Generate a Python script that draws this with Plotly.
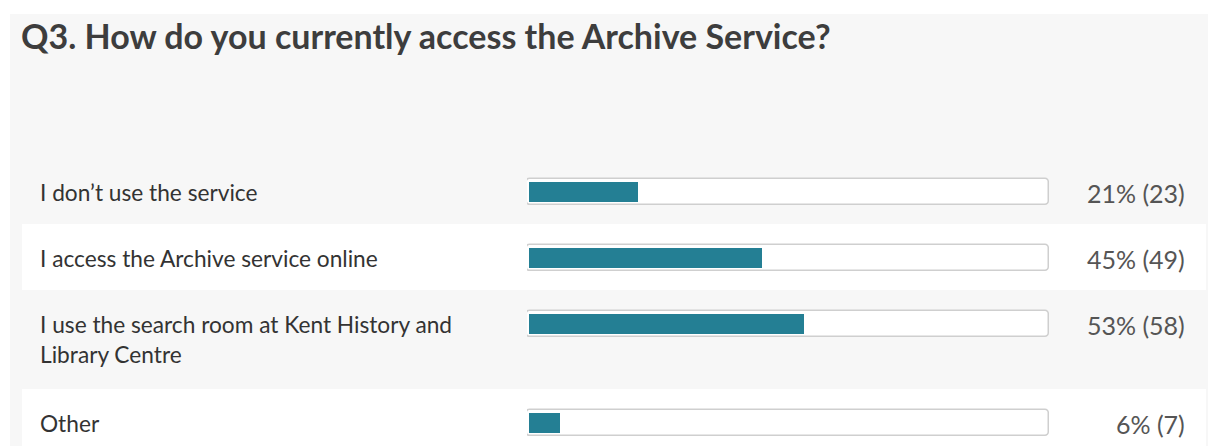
import plotly.graph_objects as go

# ---- data ----
title = "Q3. How do you currently access the Archive Service?"
labels = [
    "I don\u2019t use the service",
    "I access the Archive service online",
    "I use the search room at Kent History and<br>Library Centre",
    "Other",
]
percents = [21, 45, 53, 6]
counts = [23, 49, 58, 7]

# ---- layout constants ----
W, H = 1208, 446
FONT = "Lato"
BAR_COLOR = "#247f94"
LABEL_COLOR = "#333333"
PCT_COLOR = "#555555"
PANEL = "#f7f7f7"

first_row_top = 158
base_row_h = 66
line_h = 30
bar_offset = 34
pad = 0.386  # track border overhang in axis units (2px)

# compute row geometry from label line counts
rows = []
top = first_row_top
for lab in labels:
    n_lines = lab.count("<br>") + 1
    h = base_row_h + (n_lines - 1) * 33
    rows.append((top, top + h, top + bar_offset, lab.split("<br>")))
    top += h

centers = [r[2] for r in rows]

fig = go.Figure()

# background track
fig.add_trace(go.Bar(
    y=centers, x=[100 + 2 * pad] * len(centers), base=[-pad] * len(centers),
    orientation="h", width=26,
    marker=dict(color="white", line=dict(color="#cfcfcf", width=1.5), cornerradius=4),
    hoverinfo="skip", showlegend=False,
))
# value bars
fig.add_trace(go.Bar(
    y=centers, x=percents, orientation="h", width=20,
    marker=dict(color=BAR_COLOR, line=dict(width=0), cornerradius=4),
    customdata=counts,
    hovertemplate="%{x}% (%{customdata})<extra></extra>",
    showlegend=False,
))

shapes = [
    dict(type="rect", xref="paper", yref="paper", x0=10 / W, x1=1.0,
         y0=0, y1=1 - 14 / H, fillcolor=PANEL, line=dict(width=0), layer="below"),
]
for i, (t, b, c, lines) in enumerate(rows):
    if i % 2 == 1:
        shapes.append(dict(type="rect", xref="paper", yref="y", x0=22 / W, x1=1206 / W,
                           y0=t, y1=b, fillcolor="white", line=dict(width=0), layer="below"))

annotations = [
    dict(text=f"<b>{title}</b>", xref="paper", yref="y", x=19 / W, y=35,
         xanchor="left", yanchor="middle", showarrow=False,
         font=dict(family=FONT, size=34, color="#3d3d3d")),
]
for (t, b, c, lines), p, n in zip(rows, percents, counts):
    for j, ln in enumerate(lines):
        annotations.append(dict(text=ln, xref="paper", yref="y", x=38 / W, y=c + 0.5 + j * line_h,
                                xanchor="left", yanchor="middle", showarrow=False,
                                font=dict(family=FONT, size=22.7, color=LABEL_COLOR)))
    annotations.append(dict(text=f"{p}% ({n})", xref="paper", yref="y", x=1187 / W, y=c + 0.5,
                            xanchor="right", yanchor="middle", showarrow=False,
                            font=dict(family=FONT, size=25, color=PCT_COLOR)))

fig.update_layout(
    width=W, height=H, margin=dict(l=0, r=0, t=0, b=0),
    paper_bgcolor="white", plot_bgcolor="rgba(0,0,0,0)",
    barmode="overlay", bargap=0,
    xaxis=dict(domain=[527 / W, 1049 / W], range=[-pad, 100 + pad], visible=False, fixedrange=True),
    yaxis=dict(domain=[0, 1], range=[H, 0], visible=False, fixedrange=True),
    shapes=shapes, annotations=annotations,
)

fig.write_html("out.html", config={"displayModeBar": False},
               post_script="document.body.style.margin='0';document.body.style.padding='0';")
